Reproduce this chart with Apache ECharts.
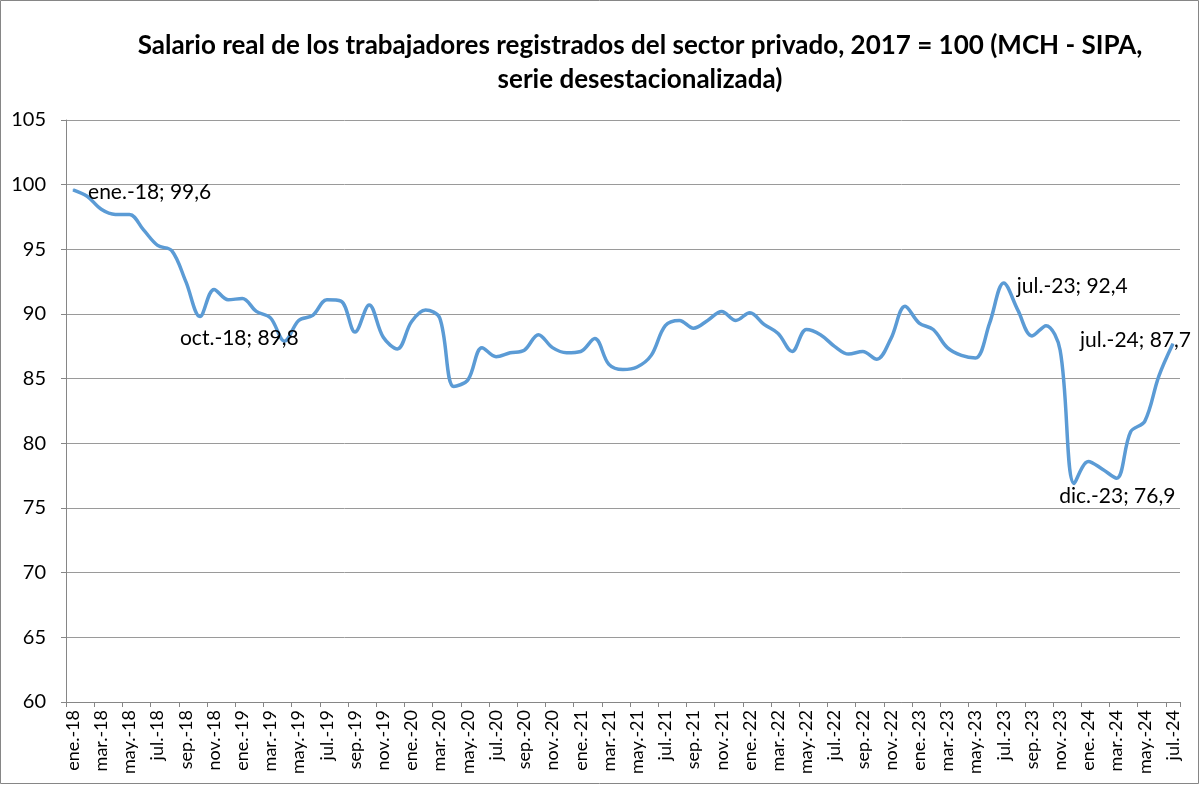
<!DOCTYPE html>
<html>
<head>
<meta charset="utf-8">
<title>Salario real sector privado</title>
<script src="https://cdn.jsdelivr.net/npm/echarts@6/dist/echarts.min.js"></script>
<style>
  html, body { margin: 0; padding: 0; background: #fff; }
  #main { width: 1200px; height: 785px; }
</style>
</head>
<body>
<div id="main"></div>
<script>
// meses y años del eje x (ene.-18 a jul.-24)
let meses = ['ene.', 'feb.', 'mar.', 'abr.', 'may.', 'jun.', 'jul.', 'ago.', 'sep.', 'oct.', 'nov.', 'dic.']
let anios = ['18', '19', '20', '21', '22', '23', '24']

// salario real, 2017 = 100, serie desestacionalizada
let salario2018 = [99.6, 99.1, 98.1, 97.7, 97.7, 96.5, 95.3, 94.9, 92.5, 89.8, 91.9, 91.1]
let salario2019 = [91.2, 90.2, 89.7, 87.9, 89.5, 89.9, 91.1, 91.0, 88.6, 90.7, 88.2, 87.3]
let salario2020 = [89.4, 90.3, 89.7, 84.4, 84.9, 87.4, 86.7, 87.0, 87.2, 88.4, 87.4, 87.0]
let salario2021 = [87.1, 88.1, 86.1, 85.7, 85.9, 86.8, 89.1, 89.5, 88.9, 89.5, 90.2, 89.5]
let salario2022 = [90.1, 89.2, 88.5, 87.1, 88.8, 88.4, 87.5, 86.9, 87.1, 86.5, 88.1, 90.6]
let salario2023 = [89.3, 88.8, 87.4, 86.8, 86.6, 89.3, 92.4, 90.3, 88.3, 89.1, 87.2, 76.9]
let salario2024 = [78.6, 78.0, 77.3, 80.9, 81.7, 85.2, 87.7]

// ticks del eje y
let yMin = 60
let yMax = 105
let yPaso = 5

// puntos con etiqueta de datos
let etiquetados = ['ene.-18', 'oct.-18', 'jul.-23', 'dic.-23', 'jul.-24']

let valores = [].concat(salario2018, salario2019, salario2020, salario2021, salario2022, salario2023, salario2024)

let categorias = []
for (let a of anios) {
  for (let m of meses) {
    if (categorias.length < valores.length) categorias.push(m + '-' + a)
  }
}

let fuente = 'Lato, "Open Sans", sans-serif'

// donde va cada etiqueta respecto del punto
let estiloEtiqueta = {
  'ene.-18': { align: 'left', offset: [15, 2] },
  'oct.-18': { align: 'left', offset: [-20, 22] },
  'jul.-23': { align: 'left', offset: [13, 3] },
  'dic.-23': { align: 'left', offset: [-15, 13] },
  'jul.-24': { align: 'right', offset: [18, -4] }
}

let datos = valores.map((v, i) => {
  let cat = categorias[i]
  if (!etiquetados.includes(cat)) return v
  let e = estiloEtiqueta[cat]
  return {
    value: v,
    label: {
      show: true,
      position: 'inside',
      align: e.align,
      verticalAlign: 'middle',
      offset: e.offset,
      color: '#000',
      fontFamily: fuente,
      fontSize: 21,
      formatter: cat + '; ' + v.toFixed(1).replace('.', ',')
    }
  }
})

let myChart = echarts.init(document.getElementById('main'))

let option = {
  animation: false,
  backgroundColor: '#fff',
  title: {
    text: 'Salario real de los trabajadores registrados del sector privado, 2017 = 100 (MCH - SIPA,\nserie desestacionalizada)',
    left: 640,
    top: 29,
    padding: 0,
    textAlign: 'center',
    textStyle: {
      fontFamily: fuente,
      fontWeight: 'bold',
      fontSize: 26,
      lineHeight: 34,
      color: '#000'
    }
  },
  graphic: [
    {
      type: 'rect',
      silent: true,
      shape: { x: 0.5, y: 0.5, width: 1198, height: 783 },
      style: { fill: null, stroke: '#868686', lineWidth: 1 }
    }
  ],
  grid: {
    left: 66,
    right: 20,
    top: 120,
    bottom: 83,
    containLabel: false
  },
  xAxis: {
    type: 'category',
    data: categorias,
    boundaryGap: true,
    axisLine: { lineStyle: { color: '#868686', width: 1 } },
    axisTick: { show: true, interval: 1, length: 5, lineStyle: { color: '#868686' } },
    axisLabel: {
      interval: 1,
      rotate: 90,
      margin: 8,
      color: '#000',
      fontFamily: fuente,
      fontSize: 18
    },
    splitLine: { show: false }
  },
  yAxis: {
    type: 'value',
    min: yMin,
    max: yMax,
    interval: yPaso,
    axisLine: { show: true, lineStyle: { color: '#868686', width: 1 } },
    axisTick: { show: true, length: 5, lineStyle: { color: '#868686' } },
    axisLabel: {
      margin: 20,
      color: '#000',
      fontFamily: fuente,
      fontSize: 20
    },
    splitLine: { show: true, lineStyle: { color: '#9a9a9a', width: 1 } }
  },
  series: [
    {
      name: 'Salario real',
      type: 'line',
      data: datos,
      smooth: 0.35,
      symbol: 'circle',
      symbolSize: 1,
      showSymbol: true,
      showAllSymbol: true,
      lineStyle: { color: '#5B9BD5', width: 3.5 },
      itemStyle: { color: '#5B9BD5' },
      label: { show: false },
      emphasis: { disabled: true }
    }
  ]
}

myChart.setOption(option)
</script>
</body>
</html>
